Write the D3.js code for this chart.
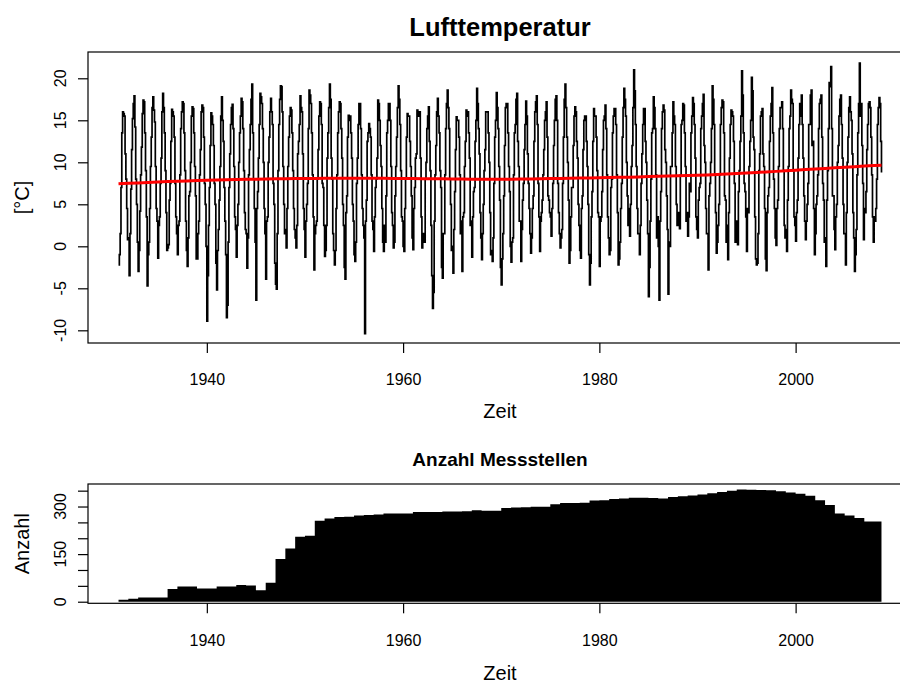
<!DOCTYPE html>
<html><head><meta charset="utf-8">
<script src="https://cdn.jsdelivr.net/npm/d3@7"></script>
<style>
body{margin:0;background:#fff}
svg{display:block}
text{font-family:"Liberation Sans",Arial,Helvetica,sans-serif;fill:#000}
</style>
</head><body>
<svg id="chart" width="900" height="687"></svg>
<script>
// ---------------- data ----------------
const startYear = 1931;
const endTime = 2008.75;           // last monthly value (Oct 2008)

// monthly mean air temperature [°C], one row per year (Jan..Dec)
const temperature = [
 [-2.2,-1.0,1.5,7.0,13.5,16.0,15.8,15.5,11.0,8.0,4.5,0.8],
 [1.0,-3.5,1.5,6.8,11.5,15.2,17.0,17.9,14.2,8.0,5.0,0.5],
 [-3.0,-0.5,4.2,8.5,11.8,15.8,17.4,17.2,13.5,9.0,3.5,-4.7],
 [-1.0,0.5,4.5,9.5,13.0,16.5,17.8,16.2,14.8,9.5,4.5,3.0],
 [-1.4,2.5,3.5,7.5,10.5,16.0,18.2,16.5,13.5,9.0,4.0,-0.5],
 [-0.2,0.2,5.5,7.5,12.5,16.3,16.0,15.5,13.0,7.5,3.5,1.5],
 [-1.0,2.5,3.0,8.5,14.0,16.0,17.2,17.0,13.5,9.0,3.0,-0.5],
 [-2.4,1.0,6.0,6.5,10.0,15.5,16.6,16.4,13.5,9.5,6.0,-1.5],
 [-1.5,1.5,3.0,8.5,11.5,16.0,16.8,16.5,13.0,7.5,5.0,0.0],
 [-8.9,-3.5,2.5,7.0,12.0,15.9,15.5,14.5,12.0,7.5,5.0,-2.0],
 [-5.2,-0.5,2.0,5.5,9.5,15.5,17.8,15.0,12.5,7.0,3.0,-1.0],
 [-8.5,-7.0,0.5,7.0,11.0,14.5,16.5,16.9,14.0,9.5,3.5,2.0],
 [-1.3,2.5,5.0,10.0,13.5,15.5,17.6,17.2,14.0,9.0,4.0,2.0],
 [1.5,-2.6,1.0,8.5,11.5,14.5,17.5,19.3,13.5,8.0,4.5,0.5],
 [-6.4,4.5,6.5,10.5,14.5,18.2,17.8,17.0,14.0,10.0,4.5,1.5],
 [-3.9,3.0,3.5,10.0,13.0,16.0,17.6,16.0,14.5,7.5,5.0,-2.0],
 [-4.5,-5.1,1.5,9.0,14.5,17.5,19.1,19.0,16.0,9.5,5.0,1.5],
 [2.0,-0.2,4.5,9.5,13.0,15.5,16.5,16.2,13.5,9.0,4.5,2.0],
 [1.0,-0.2,2.5,11.0,12.5,14.5,17.9,16.5,16.0,11.0,4.5,2.0],
 [-1.3,3.0,5.0,7.5,14.0,18.6,18.0,17.0,13.5,8.5,3.5,-2.8],
 [1.5,2.5,3.0,8.0,11.5,15.5,17.2,17.0,14.5,7.5,7.0,2.5],
 [-1.2,-0.5,2.5,10.5,13.5,16.5,19.3,17.5,10.5,8.0,1.5,-0.5],
 [-2.2,-0.5,4.5,8.5,13.5,16.0,17.2,17.0,14.0,10.5,5.0,2.5],
 [-2.5,-3.9,4.0,6.0,13.0,15.6,15.0,15.5,13.5,10.5,5.0,3.0],
 [-1.0,-1.8,0.5,7.5,10.5,14.5,17.0,17.0,14.0,8.5,4.5,2.5],
 [1.0,-10.4,3.0,5.5,12.5,13.5,14.6,14.0,13.0,8.5,3.0,2.0],
 [-0.6,3.5,7.0,8.0,10.5,17.4,17.0,15.0,12.0,9.5,4.5,0.5],
 [-0.6,2.5,0.5,6.0,13.5,15.0,17.0,17.0,15.0,9.5,4.0,2.5],
 [-0.2,0.5,6.0,9.5,13.0,16.5,19.1,17.5,14.5,9.0,3.5,3.0],
 [0.0,-0.6,4.5,8.0,13.0,15.8,15.5,15.5,12.5,9.5,6.0,1.0],
 [-0.4,4.5,7.0,10.5,11.0,16.2,15.5,15.5,16.0,10.5,3.5,-0.2],
 [1.0,1.5,0.5,8.0,10.0,14.0,15.5,16.6,12.5,9.0,2.5,-3.5],
 [-7.4,-5.5,3.0,8.5,12.0,16.0,17.6,15.5,13.5,9.0,7.0,-2.5],
 [-3.8,1.5,1.5,8.5,14.0,17.0,18.6,16.5,14.0,8.0,5.0,-0.5],
 [0.0,-3.2,2.0,6.5,11.5,15.4,15.0,15.0,13.0,8.5,1.5,3.0],
 [-3.0,3.5,4.0,9.5,12.5,16.2,15.5,16.0,13.5,10.5,2.5,3.0],
 [-1.3,3.5,6.5,7.0,12.5,15.0,18.8,17.0,14.0,11.0,4.0,1.0],
 [-1.6,1.5,5.0,9.0,11.5,16.0,16.0,16.0,13.5,10.0,4.0,-1.0],
 [-0.5,-1.8,1.0,7.5,13.0,15.0,18.3,16.5,14.0,9.5,5.5,-2.5],
 [-4.6,-1.5,1.5,6.0,12.0,16.5,17.0,17.0,13.5,9.5,6.5,0.0],
 [-1.9,0.5,1.0,8.5,13.5,14.5,17.5,18.2,12.5,9.5,3.0,3.0],
 [-1.8,2.0,5.5,7.5,11.5,14.5,17.3,15.5,11.0,7.5,4.5,1.5],
 [-0.8,1.0,4.5,6.0,12.5,16.0,17.2,17.9,14.5,7.5,3.5,-0.6],
 [3.0,4.0,5.5,8.5,11.5,15.0,16.0,17.2,13.0,6.0,5.5,4.0],
 [3.5,1.2,4.5,7.5,12.0,15.0,17.5,17.9,15.0,7.5,4.0,1.5],
 [-0.2,1.0,2.0,7.5,13.0,17.5,19.3,16.5,13.0,10.0,5.5,-2.0],
 [-0.5,3.5,7.0,7.0,12.0,15.5,16.6,16.0,12.5,10.5,5.0,2.5],
 [-0.5,-1.4,4.5,6.0,11.5,15.0,15.5,15.5,12.5,9.5,5.0,-1.0],
 [-4.6,-2.0,3.5,6.5,12.5,16.4,15.5,15.5,13.0,9.0,4.0,3.5],
 [-2.4,3.0,3.5,6.5,11.5,15.0,15.5,16.8,14.0,8.5,3.5,1.0],
 [-1.0,-0.5,7.0,8.0,13.5,15.5,16.4,16.4,14.5,8.5,4.0,-2.2],
 [-1.5,0.5,4.5,7.5,13.0,16.5,18.8,17.5,15.5,10.0,6.0,2.5],
 [4.5,1.2,5.0,9.5,12.0,16.5,21.0,18.5,14.5,9.5,4.5,1.5],
 [1.5,-1.0,2.5,7.5,11.0,14.5,16.4,16.4,12.5,10.0,5.5,1.5],
 [-6.0,-2.5,3.0,8.0,13.5,14.0,17.8,16.5,14.0,8.5,1.0,3.5],
 [0.0,-6.4,3.0,6.5,14.0,16.0,16.8,16.2,11.5,10.0,6.0,2.0],
 [-5.7,0.5,0.0,9.5,9.5,13.5,17.2,15.5,14.5,9.5,5.0,2.5],
 [4.0,3.5,2.1,8.5,14.5,15.0,17.0,16.8,13.5,9.5,3.0,4.0],
 [1.2,3.5,7.5,6.5,13.5,15.5,17.7,17.0,14.5,10.5,3.5,2.0],
 [1.0,5.5,7.0,7.5,14.0,15.5,17.0,18.1,12.0,10.0,4.5,1.5],
 [1.5,-2.8,6.0,7.5,10.0,14.0,19.1,17.5,14.5,8.5,4.0,-0.8],
 [0.5,2.5,5.0,8.5,14.5,16.5,17.4,17.2,13.5,6.0,5.5,0.5],
 [2.5,-1.6,4.0,10.5,14.5,16.2,16.0,15.5,12.5,7.5,0.5,3.0],
 [2.5,0.2,6.5,9.0,12.5,15.5,20.9,18.0,13.5,7.5,6.5,3.5],
 [-0.6,4.5,4.0,9.5,12.5,15.0,20.1,18.5,13.0,11.5,3.5,-1.5],
 [-2.2,-2.0,1.5,9.0,11.0,15.5,16.0,16.4,11.0,9.5,4.5,-1.5],
 [-2.9,4.0,6.0,7.0,12.5,15.5,17.0,18.9,13.5,8.0,4.5,1.0],
 [0.1,4.5,5.5,9.5,14.0,16.5,16.5,17.2,14.0,9.0,2.5,1.0],
 [2.0,-0.6,5.5,9.5,14.0,15.5,18.6,17.5,17.0,9.0,3.5,2.5],
 [0.6,4.0,5.5,10.5,14.5,17.0,15.5,18.0,14.5,10.5,6.0,3.0],
 [0.8,3.0,5.0,7.5,14.5,14.5,18.0,18.6,12.0,12.5,4.5,-1.0],
 [1.5,5.0,6.0,8.5,14.0,17.0,17.5,18.0,13.0,7.5,5.5,0.5],
 [1.0,-2.4,5.5,9.0,14.0,19.5,19.0,21.4,14.0,6.0,6.0,2.0],
 [-0.4,3.5,5.0,10.0,12.0,15.5,17.5,18.0,14.5,10.5,5.0,1.5],
 [1.5,-2.2,4.0,10.0,13.0,16.5,17.8,16.0,15.0,11.0,4.0,1.0],
 [-3.0,-1.0,2.0,8.5,13.5,17.0,21.8,15.5,17.0,12.0,7.5,0.8],
 [4.5,4.0,6.5,11.5,14.5,17.0,17.2,16.5,13.0,8.5,3.5,0.5],
 [3.5,3.0,4.5,8.0,14.5,16.5,17.7,17.0,12.5,8.8]
];

// smoothed trend (red), one value per year 1931..2008, plus value at end
const trendValues = [
 7.45,7.50,7.55,7.60,7.66,7.71,7.75,7.78,7.82,7.85,
 7.88,7.91,7.94,7.97,7.99,8.01,8.03,8.05,8.06,8.07,
 8.08,8.09,8.09,8.10,8.10,8.10,8.09,8.09,8.08,8.07,
 8.06,8.05,8.04,8.03,8.02,8.00,7.99,7.98,7.98,7.98,
 7.99,8.00,8.02,8.04,8.06,8.08,8.10,8.12,8.14,8.16,
 8.18,8.21,8.23,8.26,8.30,8.33,8.36,8.39,8.42,8.46,
 8.50,8.55,8.60,8.66,8.72,8.79,8.85,8.92,8.99,9.06,
 9.13,9.20,9.27,9.34,9.41,9.48,9.55,9.62
];
const trendEnd = 9.65;

// number of measuring stations, one value per year 1931..2008
const stationCounts = [
 6,9,13,13,13,40,48,48,42,42,
 48,48,53,51,36,60,135,168,205,208,
 255,262,267,268,272,273,275,278,278,278,
 283,283,283,284,284,285,288,287,287,295,
 297,298,299,299,307,311,311,312,319,320,
 324,325,328,328,327,325,330,332,335,338,
 342,346,350,354,353,352,351,348,344,340,
 334,320,305,278,272,264,253,253
];

const xTicks = [1940, 1960, 1980, 2000];
const tempTicks = [-10, -5, 0, 5, 10, 15, 20];
const countTicks = [0, 50, 100, 150, 200, 250, 300, 350];
const countTickLabels = [0, 150, 300];

const xLimits = [1927.89, 2011.86];
const tempLimits = [-11.51, 23.13];
const countLimits = [-5, 371];

// ---------------- layout ----------------
const L = 88, R = 912;
const top1 = 52, bot1 = 343;
const top2 = 484, bot2 = 603.3;

const svg = d3.select("#chart");
const x = d3.scaleLinear().domain(xLimits).range([L, R]);
const yT = d3.scaleLinear().domain(tempLimits).range([bot1, top1]);
const yC = d3.scaleLinear().domain(countLimits).range([bot2, top2]);

const monthly = [];
temperature.forEach((row, i) => row.forEach((v, j) => monthly.push({t: startYear + i + j / 12, v})));
const trendPts = trendValues.map((v, i) => ({t: startYear + i, v}));
trendPts.push({t: endTime, v: trendEnd});
const countPts = stationCounts.map((v, i) => ({t: startYear + i, v}));
countPts.push({t: endTime, v: stationCounts[stationCounts.length - 1]});

const defs = svg.append("defs");
defs.append("clipPath").attr("id", "c1").append("rect")
  .attr("x", L).attr("y", top1).attr("width", R - L).attr("height", bot1 - top1);
defs.append("clipPath").attr("id", "c2").append("rect")
  .attr("x", L).attr("y", top2).attr("width", R - L).attr("height", bot2 - top2);

// ---------- top panel ----------
const g1 = svg.append("g").attr("clip-path", "url(#c1)");
g1.append("path").datum(monthly)
  .attr("d", d3.line().x(d => x(d.t)).y(d => yT(d.v)).curve(d3.curveStepAfter))
  .attr("fill", "none").attr("stroke", "#000").attr("stroke-width", 1.7);
g1.append("path").datum(trendPts)
  .attr("d", d3.line().x(d => x(d.t)).y(d => yT(d.v)))
  .attr("fill", "none").attr("stroke", "#ff0000").attr("stroke-width", 3);

svg.append("rect").attr("x", L).attr("y", top1).attr("width", R - L).attr("height", bot1 - top1)
  .attr("fill", "none").attr("stroke", "#000").attr("stroke-width", 1.2);

const ax1 = svg.append("g").attr("transform", `translate(0,${bot1})`)
  .call(d3.axisBottom(x).tickValues(xTicks).tickSize(10).tickPadding(21).tickFormat(d3.format("d")));
const ay1 = svg.append("g").attr("transform", `translate(${L},0)`)
  .call(d3.axisLeft(yT).tickValues(tempTicks).tickSize(10).tickFormat(""));

svg.append("g").selectAll("text").data(tempTicks).join("text")
  .attr("transform", d => `translate(66,${yT(d)}) rotate(-90)`)
  .attr("text-anchor", "middle").attr("font-size", 16).text(d => String(d));

svg.append("text").attr("x", (L + R) / 2).attr("y", 36).attr("text-anchor", "middle")
  .attr("font-size", 25.5).attr("font-weight", "bold").text("Lufttemperatur");
svg.append("text").attr("x", (L + R) / 2).attr("y", 418).attr("text-anchor", "middle")
  .attr("font-size", 20).text("Zeit");
svg.append("text").attr("transform", `translate(29,${(top1 + bot1) / 2}) rotate(-90)`)
  .attr("text-anchor", "middle").attr("font-size", 20).text("[°C]");

// ---------- bottom panel ----------
const g2 = svg.append("g").attr("clip-path", "url(#c2)");
g2.append("path").datum(countPts)
  .attr("d", d3.area().x(d => x(d.t)).y0(yC(0)).y1(d => yC(d.v)).curve(d3.curveStepAfter))
  .attr("fill", "#000").attr("stroke", "none");

svg.append("rect").attr("x", L).attr("y", top2).attr("width", R - L).attr("height", bot2 - top2)
  .attr("fill", "none").attr("stroke", "#000").attr("stroke-width", 1.2);

const ax2 = svg.append("g").attr("transform", `translate(0,${bot2})`)
  .call(d3.axisBottom(x).tickValues(xTicks).tickSize(10).tickPadding(21).tickFormat(d3.format("d")));
const ay2 = svg.append("g").attr("transform", `translate(${L},0)`)
  .call(d3.axisLeft(yC).tickValues(countTicks).tickSize(10).tickFormat(""));

svg.append("g").selectAll("text").data(countTickLabels).join("text")
  .attr("transform", d => `translate(66,${yC(d)}) rotate(-90)`)
  .attr("text-anchor", "middle").attr("font-size", 16).text(d => String(d));

svg.append("text").attr("x", (L + R) / 2).attr("y", 466).attr("text-anchor", "middle")
  .attr("font-size", 19).attr("font-weight", "bold").text("Anzahl Messstellen");
svg.append("text").attr("x", (L + R) / 2).attr("y", 680).attr("text-anchor", "middle")
  .attr("font-size", 20).text("Zeit");
svg.append("text").attr("transform", `translate(28.5,${(top2 + bot2) / 2}) rotate(-90)`)
  .attr("text-anchor", "middle").attr("font-size", 20).text("Anzahl");

// axis styling (R look)
[ax1, ax2, ay1, ay2].forEach(a => {
  a.select(".domain").remove();
  a.selectAll(".tick line").attr("stroke", "#000").attr("stroke-width", 1.2);
  a.selectAll(".tick text").attr("font-size", 16).attr("fill", "#000")
    .attr("font-family", '"Liberation Sans",Arial,sans-serif');
});
</script>
</body></html>
